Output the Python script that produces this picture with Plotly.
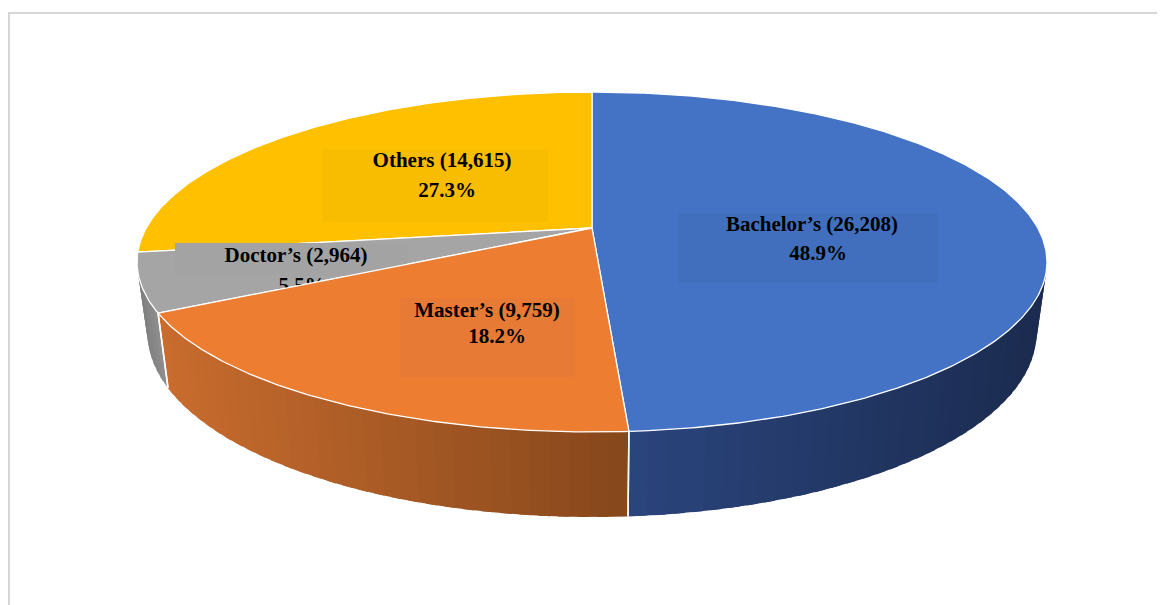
import numpy as np
import plotly.graph_objects as go

# ---------------- data ----------------
categories = ["Bachelor’s", "Master’s", "Doctor’s", "Others"]
counts = [26208, 9759, 2964, 14615]

# ---------------- styles ----------------
top_colors = ["#4472C4", "#ED7D31", "#A5A5A5", "#FFC000"]
side_left_colors = ["#2A457D", "#C96C2E", "#7E7E7E", "#C99700"]
side_right_colors = ["#1B2B4F", "#86471B", "#8F8F8F", "#A07800"]
box_colors = ["#416FBD", "#E77A34", "#A3A3A3", "#F8BC00"]

W, H = 1165, 605
PAGE_OFF = 8                 # page body margin offset
CX, CY = 592.0, 228.0        # projected pie centre (apex)
A, B, E = 445.8, 117.6, 0.2  # perspective ellipse parameters
DEPTH, SHRINK = 68.0, 0.977

# label layout (pixel space): line1 centre, line2 centre, box [x0,x1,y0,y1]
label_line1 = [(812, 226), (487, 312), (296, 257), (442, 162)]
label_line2 = [(818, 255), (497, 338), (302, 287), (447, 192)]
label_box = [(678, 938, 213, 283), (400, 575, 298, 377), (175, 408, 243, 276), (322, 548, 149, 222)]


def top_pt(t):
    u, v = np.sin(t), np.cos(t)
    den = 1 + E * v
    return CX + A * u / den, (CY - B * v) / den


def bot_pt(t):
    x, y = top_pt(t)
    v = np.cos(t)
    return CX + (x - CX) * SHRINK, y + DEPTH / (1 + E * v)


def hex2rgb(h):
    h = h.lstrip("#")
    return np.array([int(h[i:i + 2], 16) for i in (0, 2, 4)], dtype=float)


def mix(c1, c2, f):
    c = hex2rgb(c1) * (1 - f) + hex2rgb(c2) * f
    return "rgb(%d,%d,%d)" % tuple(np.round(c).astype(int))


total = float(sum(counts))
fracs = [c / total for c in counts]
cum = np.concatenate([[0], np.cumsum(fracs)])
starts = cum[:-1] * 2 * np.pi
ends = cum[1:] * 2 * np.pi

fig = go.Figure()

# ---------- side walls ----------
vis0 = np.pi / 2 + np.arcsin(E)
vis1 = 3 * np.pi / 2 - np.arcsin(E)
side_edges = []
for i in range(len(counts)):
    a0, a1 = max(starts[i], vis0), min(ends[i], vis1)
    if a1 <= a0:
        continue
    n = max(4, int(np.degrees(a1 - a0) / 2))
    ts = np.linspace(a0, a1, n + 1)
    step = ts[1] - ts[0]
    xs = [top_pt(t)[0] for t in ts]
    xmin, xmax = min(xs), max(xs)
    for k in range(n):
        ta = ts[k]
        tb = min(ts[k + 1] + step * 0.6, a1)
        sub = np.linspace(ta, tb, 4)
        px = [top_pt(t)[0] for t in sub] + [bot_pt(t)[0] for t in sub[::-1]]
        py = [top_pt(t)[1] for t in sub] + [bot_pt(t)[1] for t in sub[::-1]]
        xm = top_pt((ts[k] + ts[k + 1]) / 2)[0]
        f = (xm - xmin) / (xmax - xmin) if xmax > xmin else 0
        col = mix(side_left_colors[i], side_right_colors[i], f)
        fig.add_trace(go.Scatter(x=px, y=py, mode="lines", fill="toself",
                                 fillcolor=col, line=dict(width=0),
                                 hoverinfo="skip", showlegend=False))
    for t in (starts[i], ends[i]):
        if vis0 < t < vis1:
            side_edges.append(t)

for t in side_edges:
    (x0, y0), (x1, y1) = top_pt(t), bot_pt(t)
    fig.add_trace(go.Scatter(x=[x0, x1], y=[y0, y1], mode="lines",
                             line=dict(color="white", width=1.5),
                             hoverinfo="skip", showlegend=False))


def add_top(i):
    ts = np.linspace(starts[i], ends[i], max(10, int(np.degrees(ends[i] - starts[i]) * 2)))
    px = [CX] + [top_pt(t)[0] for t in ts] + [CX]
    py = [CY] + [top_pt(t)[1] for t in ts] + [CY]
    fig.add_trace(go.Scatter(x=px, y=py, mode="lines", fill="toself",
                             fillcolor=top_colors[i], line=dict(color="white", width=1.3),
                             hoverinfo="skip", showlegend=False))


def add_label(i):
    x0, x1, y0, y1 = label_box[i]
    fig.add_trace(go.Scatter(x=[x0, x1, x1, x0, x0], y=[y0, y0, y1, y1, y0], mode="lines",
                             fill="toself", fillcolor=box_colors[i], line=dict(width=0),
                             hoverinfo="skip", showlegend=False))
    pct = fracs[i] * 100
    fig.add_trace(go.Scatter(
        x=[label_line1[i][0], label_line2[i][0]],
        y=[label_line1[i][1], label_line2[i][1]],
        mode="text",
        text=["<b>%s (%s)</b>" % (categories[i], f"{counts[i]:,}"), "<b>%.1f%%</b>" % pct],
        textposition="middle center",
        textfont=dict(family="Liberation Serif, Times New Roman, serif", size=21, color="black"),
        hoverinfo="skip", showlegend=False))


# ---------- top faces & labels (layer order as in reference) ----------
add_top(0)
add_top(3)
add_top(2)
add_label(2)
add_top(1)
add_label(0)
add_label(1)
add_label(3)

fig.add_shape(type="rect", x0=9, y0=13, x1=W + 20, y1=H + 20,
              line=dict(color="#D6D6D6", width=2), layer="above")

fig.update_layout(
    width=W, height=H,
    margin=dict(l=0, r=0, t=0, b=0),
    paper_bgcolor="white", plot_bgcolor="white",
    xaxis=dict(range=[PAGE_OFF, W + PAGE_OFF], visible=False, fixedrange=True),
    yaxis=dict(range=[H + PAGE_OFF, PAGE_OFF], visible=False, fixedrange=True),
    showlegend=False,
)

fig.write_html("out.html")
